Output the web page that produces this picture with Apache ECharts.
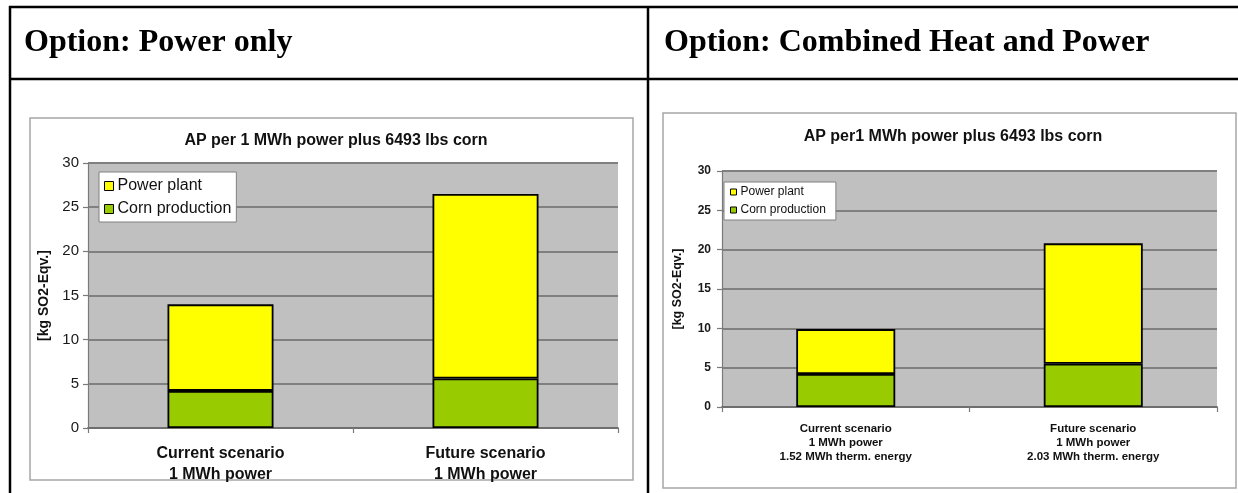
<!DOCTYPE html>
<html>
<head>
<meta charset="utf-8">
<title>AP per 1 MWh power plus 6493 lbs corn</title>
<script src="https://cdn.jsdelivr.net/npm/echarts@6/dist/echarts.min.js"></script>
<style>
  html, body { margin: 0; padding: 0; background: #ffffff; }
  #chart { width: 1238px; height: 493px; }
</style>
</head>
<body>
<div id="chart"></div>
<script>
// Acidification potential [kg SO2-Eqv.] split by source, for two plant options.
const headerPower = 'Option: Power only';
const headerChp = 'Option: Combined Heat and Power';

const titlePower = 'AP per 1 MWh power plus 6493 lbs corn';
const titleChp = 'AP per1 MWh power plus 6493 lbs corn';

const yAxisName = '[kg SO2-Eqv.]';
const seriesNames = ['Power plant', 'Corn production'];

const categoriesPower = ['Current scenario\n1 MWh power', 'Future scenario\n1 MWh power'];
const categoriesChp = [
  'Current scenario\n1 MWh power\n1.52 MWh therm. energy',
  'Future scenario\n1 MWh power\n2.03 MWh therm. energy'
];

// Power only
const cornPower = [4.2, 5.6];
const plantPower = [9.8, 20.9];
// Combined heat and power
const cornChp = [4.2, 5.5];
const plantChp = [5.7, 15.3];

const yMin = 0, yMax = 30, yStep = 5;

const YELLOW = '#ffff00';
const GREEN = '#99cc00';
const PLOT_BG = '#c0c0c0';
const GRID_LINE = '#808080';
const FONT = 'Arial, "Liberation Sans", sans-serif';
const SERIF = '"Liberation Serif", "Times New Roman", serif';

function yAxisFor(gridIndex, labelFont, labelWeight, nameFont, nameGap, labelMargin) {
  return {
    type: 'value', gridIndex, min: yMin, max: yMax, interval: yStep,
    name: yAxisName, nameLocation: 'middle', nameRotate: 90, nameGap,
    nameTextStyle: { fontFamily: FONT, fontWeight: 'bold', fontSize: nameFont, color: '#111' },
    axisLine: { show: true, lineStyle: { color: '#7a7a7a', width: 1.2 } },
    axisTick: { show: true, length: 5, lineStyle: { color: '#7a7a7a', width: 1.2 } },
    axisLabel: { fontFamily: FONT, fontSize: labelFont, fontWeight: labelWeight, color: '#1a1a1a', margin: labelMargin },
    splitLine: { show: true, lineStyle: { color: GRID_LINE, width: 1.8 } }
  };
}

function xAxisFor(gridIndex, cats, fontSize, lineHeight, margin) {
  return {
    type: 'category', gridIndex, data: cats, boundaryGap: true,
    axisLine: { show: true, lineStyle: { color: '#6e6e6e', width: 1.8 } },
    axisTick: { show: true, length: 5, alignWithLabel: false, lineStyle: { color: '#7a7a7a', width: 1.2 } },
    axisLabel: { fontFamily: FONT, fontSize, fontWeight: 'bold', color: '#111', lineHeight, margin, interval: 0 }
  };
}

function barSeries(name, data, color, axisIndex) {
  return {
    name, type: 'bar', stack: 'total' + axisIndex, data,
    xAxisIndex: axisIndex, yAxisIndex: axisIndex,
    barWidth: '40%',
    itemStyle: { color, borderColor: '#000000', borderWidth: 1.8 },
    emphasis: { disabled: true }
  };
}

function legendFor(left, top, fontSize, iconSize, gap, padding) {
  return {
    orient: 'vertical', left, top, data: seriesNames,
    icon: 'rect', itemWidth: iconSize, itemHeight: iconSize, itemGap: gap,
    backgroundColor: '#ffffff', borderColor: '#808080', borderWidth: 1, borderRadius: 0,
    padding, selectedMode: false,
    itemStyle: { borderColor: '#000000', borderWidth: 1 },
    textStyle: { fontFamily: FONT, fontSize, color: '#111', padding: [0, 0, 0, -1] }
  };
}

const chart = echarts.init(document.getElementById('chart'), null, { renderer: 'canvas' });

chart.setOption({
  animation: false,
  backgroundColor: '#ffffff',
  title: [
    { text: titlePower, left: 331, top: 128, textAlign: 'center',
      textStyle: { fontFamily: FONT, fontWeight: 'bold', fontSize: 16, color: '#111' } },
    { text: titleChp, left: 948, top: 124, textAlign: 'center',
      textStyle: { fontFamily: FONT, fontWeight: 'bold', fontSize: 16, color: '#111' } }
  ],
  legend: [
    legendFor(99, 172, 16, 9, 7, [6, 5, 5, 5]),
    legendFor(724, 182, 12, 6, 6, [4, 10, 4, 6])
  ],
  grid: [
    { left: 88, top: 163, width: 530, height: 265, show: true, backgroundColor: PLOT_BG, borderWidth: 0 },
    { left: 722, top: 171, width: 495, height: 236, show: true, backgroundColor: PLOT_BG, borderWidth: 0 }
  ],
  xAxis: [
    xAxisFor(0, categoriesPower, 16, 21, 15),
    xAxisFor(1, categoriesChp, 11.5, 14, 15)
  ],
  yAxis: [
    yAxisFor(0, 15, 'normal', 14, 37, 9),
    yAxisFor(1, 12, 'bold', 12.5, 38, 11)
  ],
  series: [
    barSeries(seriesNames[1], cornPower, GREEN, 0),
    barSeries(seriesNames[0], plantPower, YELLOW, 0),
    barSeries(seriesNames[1], cornChp, GREEN, 1),
    barSeries(seriesNames[0], plantChp, YELLOW, 1)
  ],
  graphic: [
    // chart frames
    { type: 'rect', silent: true, shape: { x: 30, y: 118, width: 603, height: 362 },
      style: { fill: null, stroke: '#a6a6a6', lineWidth: 1.5 } },
    { type: 'rect', silent: true, shape: { x: 663, y: 113, width: 573, height: 375 },
      style: { fill: null, stroke: '#a6a6a6', lineWidth: 1.5 } },
    // table rules
    { type: 'line', silent: true, shape: { x1: 9, y1: 7, x2: 1238, y2: 7 },
      style: { stroke: '#000', lineWidth: 2.5 } },
    { type: 'line', silent: true, shape: { x1: 9, y1: 79, x2: 1238, y2: 79 },
      style: { stroke: '#000', lineWidth: 2.5 } },
    { type: 'line', silent: true, shape: { x1: 10, y1: 6, x2: 10, y2: 493 },
      style: { stroke: '#000', lineWidth: 2.5 } },
    { type: 'line', silent: true, shape: { x1: 648, y1: 6, x2: 648, y2: 493 },
      style: { stroke: '#000', lineWidth: 2.5 } },
    // header cells
    { type: 'text', silent: true, x: 24, y: 43,
      style: { text: headerPower, font: 'bold 32px ' + SERIF, fill: '#000', verticalAlign: 'middle' } },
    { type: 'text', silent: true, x: 664, y: 43,
      style: { text: headerChp, font: 'bold 32px ' + SERIF, fill: '#000', verticalAlign: 'middle' } }
  ]
});
</script>
</body>
</html>
